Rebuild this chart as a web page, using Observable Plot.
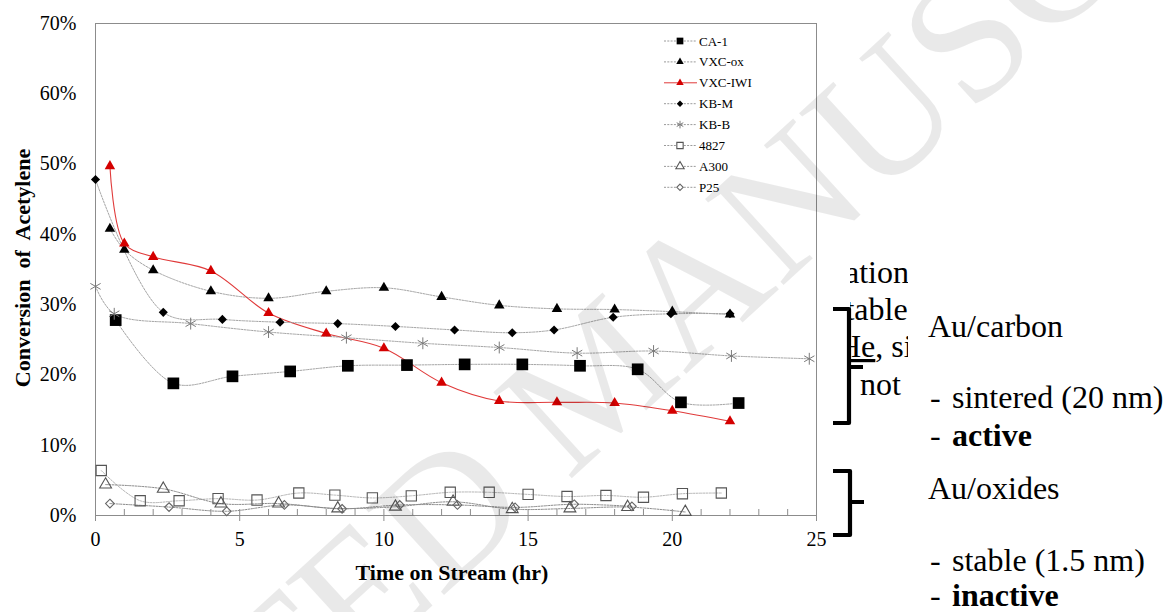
<!DOCTYPE html>
<html><head><meta charset="utf-8">
<script src="https://cdn.jsdelivr.net/npm/d3@7"></script>
<script src="https://cdn.jsdelivr.net/npm/@observablehq/plot@0.6"></script>
<style>
html,body{margin:0;padding:0;background:#fff;width:1164px;height:612px;overflow:hidden}
#wrap{position:relative;width:1164px;height:612px}
#chart,#over{position:absolute;left:0;top:0}
#over{pointer-events:none}
</style></head>
<body><div id="wrap"><div id="chart"></div><svg id="over" width="1164" height="612"></svg></div>
<script>
// ---- data (time in hr, conversion in %) ----
const seriesNames = ["CA-1","VXC-ox","VXC-IWI","KB-M","KB-B","4827","A300","P25"];
const ca1T = [0.7,2.7,4.75,6.75,8.75,10.8,12.8,14.8,16.8,18.8,20.3,22.3];
const ca1Y = [27.8,18.8,19.8,20.5,21.3,21.4,21.5,21.5,21.3,20.8,16.1,16.0];
const vxcOxT = [0.5,1.0,2.0,4.0,6.0,8.0,10.0,12.0,14.0,16.0,18.0,20.0,22.0];
const vxcOxY = [40.8,37.8,34.9,31.9,30.9,31.9,32.4,31.1,29.9,29.4,29.3,29.0,28.6];
const vxcIwiT = [0.5,1.0,2.0,4.0,6.0,8.0,10.0,12.0,14.0,16.0,18.0,20.0,22.0];
const vxcIwiY = [49.7,38.7,36.8,34.8,28.8,25.9,23.8,18.9,16.3,16.1,16.0,14.9,13.4];
const kbmT = [0,2.35,4.4,6.4,8.4,10.4,12.45,14.45,15.9,17.95,19.95,22.0];
const kbmY = [47.8,28.9,27.9,27.5,27.3,26.9,26.4,26.0,26.4,28.2,28.7,28.7];
const kbbT = [0,0.65,3.3,6.0,8.7,11.35,14.0,16.7,19.35,22.05,24.75];
const kbbY = [32.6,28.7,27.3,26.1,25.3,24.5,23.9,23.1,23.4,22.7,22.3];
const s4827T = [0.2,1.55,2.9,4.25,5.6,7.05,8.3,9.6,10.95,12.3,13.65,15.0,16.35,17.7,19.0,20.35,21.7];
const s4827Y = [6.4,2.1,2.1,2.4,2.2,3.2,2.9,2.5,2.8,3.3,3.3,3.0,2.7,2.85,2.6,3.1,3.2];
const a300T = [0.35,2.35,4.35,6.35,8.4,10.4,12.4,14.45,16.45,18.45,20.45];
const a300Y = [4.4,3.8,1.7,1.7,1.0,1.25,1.95,0.9,1.0,1.2,0.5];
const p25T = [0.5,2.55,4.55,6.55,8.55,10.55,12.55,14.55,16.6,18.6];
const p25Y = [1.7,1.2,0.6,1.5,0.95,1.5,1.5,1.15,1.6,1.3];

const xTicks = [0,5,10,15,20,25];
const xMinor = d3.range(0,26);
const yTicks = [0,10,20,30,40,50,60,70];

const xTitle = "Time on Stream (hr)";
const yTitle = "Conversion\u00a0 of\u00a0 Acetylene";

const seriesT = [ca1T,vxcOxT,vxcIwiT,kbmT,kbbT,s4827T,a300T,p25T];
const seriesY = [ca1Y,vxcOxY,vxcIwiY,kbmY,kbbY,s4827Y,a300Y,p25Y];

// ---- styles ----
const GREYLINE = "#a3a3a3";
const styles = {
  "CA-1":   {symbol:"square",   r:6.6, fill:"#000", stroke:"none", sw:0, line:GREYLINE, dash:"2,1.3", lw:1},
  "VXC-ox": {symbol:"triangle", r:3.9, fill:"#000", stroke:"none", sw:0, line:GREYLINE, dash:"2,1.3", lw:1},
  "VXC-IWI":{symbol:"triangle", r:3.9, fill:"#d40000", stroke:"none", sw:0, line:"#e03a3a", dash:null, lw:1.1},
  "KB-M":   {symbol:"diamond2", r:4.1, fill:"#000", stroke:"none", sw:0, line:GREYLINE, dash:"2,1.3", lw:1},
  "KB-B":   {symbol:"asterisk", r:5.6, fill:"none", stroke:"#7a7a7a", sw:1, line:GREYLINE, dash:"2,1.3", lw:1},
  "4827":   {symbol:"square",   r:5.8, fill:"none", stroke:"#555", sw:1.1, line:"#b5b5b5", dash:"2,1.3", lw:1},
  "A300":   {symbol:"triangle", r:4.4, fill:"none", stroke:"#555", sw:1.1, line:"#8a8a8a", dash:"2,1.3", lw:1},
  "P25":    {symbol:"diamond2", r:3.9, fill:"none", stroke:"#666", sw:1.1, line:"#8a8a8a", dash:"2,1.3", lw:1}
};

const rows = seriesNames.flatMap((name, k) => seriesT[k].map((t, i) => ({series: name, t, v: seriesY[k][i]})));

const FONT = "'Liberation Serif','Times New Roman',Times,serif";

const lineMarks = seriesNames.map(name => {
  const s = styles[name];
  return Plot.line(rows.filter(r => r.series === name), {
    x: "t", y: "v", curve: "catmull-rom", stroke: s.line, strokeWidth: s.lw,
    strokeDasharray: s.dash
  });
});
const dotMarks = seriesNames.map(name => {
  const s = styles[name];
  return Plot.dot(rows.filter(r => r.series === name), {
    x: "t", y: "v", symbol: s.symbol, r: s.r, fill: s.fill, stroke: s.stroke, strokeWidth: s.sw
  });
});

const chart = Plot.plot({
  width: 1164, height: 612,
  marginLeft: 95, marginRight: 348, marginTop: 23, marginBottom: 97,
  style: {fontFamily: FONT, fontSize: "20px", background: "transparent", color: "#000"},
  x: {domain: [0, 25]},
  y: {domain: [0, 70]},
  marks: [
    Plot.frame({stroke: "#8c8c8c"}),
    Plot.axisY({ticks: yTicks, tickFormat: d => d + "%", tickSize: 0, tickPadding: 19, label: null, fontSize: 20}),
    Plot.axisX({ticks: xTicks, tickFormat: d => String(d), tickSize: 6, tickPadding: 10, label: null, stroke: "#8c8c8c", fill: "#000", fontSize: 20}),
    ...lineMarks,
    ...dotMarks
  ]
});
document.getElementById("chart").appendChild(chart);

// ---- overlay: minor ticks, legend, titles, annotations ----
const svg = d3.select("#over");
const xs = chart.scale("x"), ys = chart.scale("y");
const y0 = ys.apply(0);
svg.append("g").attr("stroke","#8c8c8c").attr("stroke-width",1)
  .selectAll("line").data(xMinor).join("line")
  .attr("x1", d => xs.apply(d) + 0.5).attr("x2", d => xs.apply(d) + 0.5)
  .attr("y1", y0 - 6).attr("y2", y0);

const symbolMap = {square: d3.symbolSquare, triangle: d3.symbolTriangle, diamond2: d3.symbolDiamond2, asterisk: d3.symbolAsterisk};

// partially hidden slide text behind the chart
svg.append("clipPath").attr("id","hid").append("rect").attr("x",850).attr("y",240).attr("width",58).attr("height",170);
const hidden = svg.append("g").attr("clip-path","url(#hid)").attr("font-family",FONT).attr("font-size",32).attr("fill","#000");
hidden.append("text").attr("x",845).attr("y",283).text("ation");
hidden.append("text").attr("x",833).attr("y",320).text("stable");
const he = hidden.append("text").attr("x",838).attr("y",357);
he.append("tspan").attr("text-decoration","underline").text("He");
he.append("tspan").text(", si");
hidden.append("text").attr("x",860).attr("y",395).text("not");

// brackets
const br = svg.append("g").attr("fill","none").attr("stroke","#000").attr("stroke-width",4.2).attr("stroke-linejoin","round");
br.append("path").attr("d","M833,309 H849 V423 H833 M849,367 H863");
br.append("path").attr("d","M833,471 H850 V535 H833 M850,502 H864");

// annotation text
const ann = svg.append("g").attr("font-family",FONT).attr("font-size",32).attr("fill","#000");
function bullet(y, word, bold){
  ann.append("text").attr("x",930).attr("y",y).text("-");
  ann.append("text").attr("x",952).attr("y",y).attr("font-weight",bold?"bold":"normal").text(word);
}
ann.append("text").attr("x",928).attr("y",337).text("Au/carbon");
bullet(408, "sintered (20 nm)", false);
bullet(446, "active", true);
ann.append("text").attr("x",928).attr("y",499).text("Au/oxides");
bullet(571, "stable (1.5 nm)", false);
bullet(606, "inactive", true);

// axis titles
svg.append("text").attr("x",452).attr("y",580).attr("text-anchor","middle")
  .attr("font-family",FONT).attr("font-size",22).attr("font-weight","bold").text(xTitle);
svg.append("text").attr("transform","translate(30,268) rotate(-90)").attr("text-anchor","middle")
  .attr("font-family",FONT).attr("font-size",22).attr("font-weight","bold").text(yTitle);

// legend
const leg = svg.append("g").attr("font-family",FONT).attr("font-size",13);
const legSizes = {"CA-1":45,"VXC-ox":24,"VXC-IWI":24,"KB-M":26,"KB-B":40,"4827":40,"A300":30,"P25":26};
seriesNames.forEach((name, i) => {
  const s = styles[name];
  const y = 41 + i * 20.9;
  leg.append("line").attr("x1",664).attr("x2",697).attr("y1",y).attr("y2",y)
    .attr("stroke", name === "VXC-IWI" ? "#e03a3a" : "#9a9a9a").attr("stroke-width",1)
    .attr("stroke-dasharray", name === "VXC-IWI" ? null : "2,1.3");
  leg.append("path").attr("transform",`translate(680,${y})`)
    .attr("d", d3.symbol(symbolMap[s.symbol], legSizes[name])())
    .attr("fill", s.fill === "none" ? "#fff" : s.fill).attr("stroke", s.stroke).attr("stroke-width", s.sw);
  leg.append("text").attr("x",699).attr("y",y).attr("dy","0.35em").text(name);
});

// watermark
svg.append("text").attr("transform","translate(-144,1132) rotate(-42.4)")
  .attr("font-family",FONT).attr("font-size",178).attr("fill","rgba(0,0,0,0.085)")
  .text("ACCEPTED MANUSCRIPT");
</script>
</body></html>
